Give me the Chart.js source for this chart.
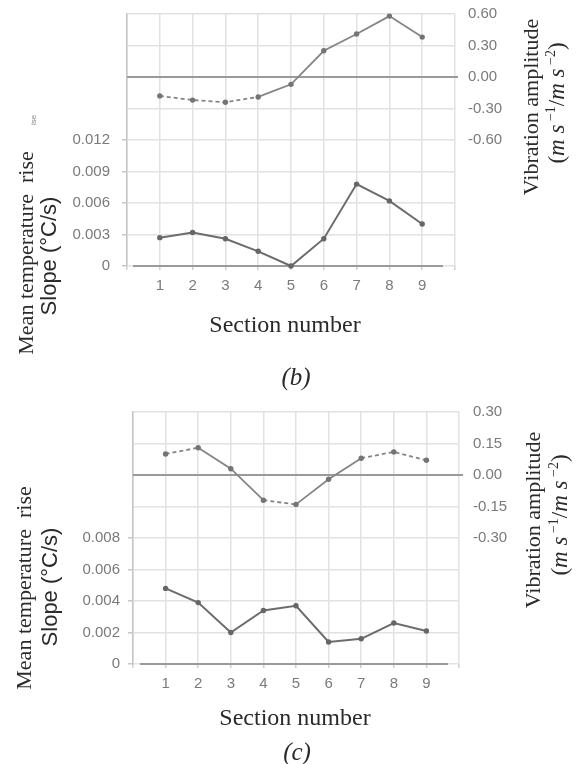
<!DOCTYPE html>
<html>
<head>
<meta charset="utf-8">
<script src="https://cdn.jsdelivr.net/npm/chart.js@4.4.0/dist/chart.umd.min.js"></script>
<style>
  html, body { margin: 0; padding: 0; background: #fff; }
  canvas { position: absolute; left: 0; }
  #chartB { top: 0; }
  #chartC { top: 400px; }
</style>
</head>
<body>
<canvas id="chartB" width="576" height="400"></canvas>
<canvas id="chartC" width="576" height="364"></canvas>
<script>
var sections = [1, 2, 3, 4, 5, 6, 7, 8, 9];

// panel (b)
var vibB  = [-0.18, -0.22, -0.24, -0.19, -0.07, 0.25, 0.41, 0.58, 0.38];
var tempB = [0.0027, 0.0032, 0.0026, 0.0014, 0.0000, 0.0026, 0.0078, 0.0062, 0.0040];
var vibTicksB  = [-0.6, -0.3, 0, 0.3, 0.6];
var tempTicksB = [0, 0.003, 0.006, 0.009, 0.012];

// panel (c)
var vibC  = [0.10, 0.13, 0.03, -0.12, -0.14, -0.02, 0.08, 0.11, 0.07];
var tempC = [0.0048, 0.0039, 0.0020, 0.0034, 0.0037, 0.0014, 0.0016, 0.0026, 0.0021];
var vibTicksC  = [-0.3, -0.15, 0, 0.15, 0.3];
var tempTicksC = [0, 0.002, 0.004, 0.006, 0.008];

var GRID = '#e2e2e2';
var TICK_COLOR = '#7a7a7a';
var TITLE_COLOR = '#2a2a2a';
var SERIF = '"Liberation Serif", "Times New Roman", serif';
var SANS = '"Liberation Sans", Arial, sans-serif';

function pts(ys) {
  return sections.map(function (s, i) { return { x: s, y: ys[i] }; });
}

function listed(list, v) {
  return list.some(function (t) { return Math.abs(t - v) < 1e-9; });
}

// dotted look on the flat stretches of the vibration trace
function flatDash(ctx) {
  var dx = ctx.p1.x - ctx.p0.x, dy = ctx.p1.y - ctx.p0.y;
  return Math.abs(dy) < 0.3 * Math.abs(dx) ? [4, 3] : [];
}

// scales reserve room for overhanging labels; the plot box is fixed here instead
function noOverhang(s) {
  s.paddingTop = 0;
  s.paddingBottom = 0;
  s.paddingLeft = 0;
  s.paddingRight = 0;
}

// draws a row of differently styled runs centred on (cx, cy)
function drawRuns(ctx, runs, cx, cy, angle) {
  ctx.save();
  ctx.translate(cx, cy);
  ctx.rotate(angle);
  ctx.textBaseline = 'middle';
  ctx.fillStyle = TITLE_COLOR;
  var total = 0;
  runs.forEach(function (r) {
    ctx.font = r.font;
    r.w = ctx.measureText(r.text).width;
    total += r.w;
  });
  var x = -total / 2;
  runs.forEach(function (r) {
    ctx.font = r.font;
    ctx.fillText(r.text, x, r.dy || 0);
    x += r.w;
  });
  ctx.restore();
}

function unitRuns() {
  var n = '23px ' + SERIF, it = 'italic 23px ' + SERIF, sup = '14px ' + SERIF;
  return [
    { text: '(', font: n },
    { text: 'm s', font: it },
    { text: ' \u22121', font: sup, dy: -7 },
    { text: '/', font: n },
    { text: 'm s', font: it },
    { text: ' \u22122', font: sup, dy: -7 },
    { text: ')', font: n }
  ];
}

function makePanel(id, o) {
  var up = -Math.PI / 2;

  var decor = {
    id: 'decor',
    beforeDatasetsDraw: function (chart) {
      var ctx = chart.ctx, a = chart.chartArea;
      var y0 = chart.scales.yVib.getPixelForValue(0);
      var yb = chart.scales.yTemp.getPixelForValue(0);
      ctx.save();
      ctx.strokeStyle = '#9a9a9a';
      ctx.lineWidth = 2;
      ctx.beginPath();
      ctx.moveTo(a.left, y0);
      ctx.lineTo(a.right + o.zeroExt, y0);
      ctx.moveTo(a.left + o.baseInset[0], yb);
      ctx.lineTo(a.right - o.baseInset[1], yb);
      ctx.stroke();
      ctx.restore();
    },
    afterDraw: function (chart) {
      var ctx = chart.ctx, t = o.text;
      drawRuns(ctx, [{ text: 'Mean temperature  rise', font: '22px ' + SERIF }], t.mean[0], t.mean[1], up);
      drawRuns(ctx, [{ text: 'Slope (\u00B0C/s)', font: '22px ' + SANS }], t.slope[0], t.slope[1], up);
      drawRuns(ctx, [{ text: 'Vibration amplitude', font: '22px ' + SERIF }], t.vib[0], t.vib[1], up);
      drawRuns(ctx, unitRuns(), t.unit[0], t.unit[1], up);
      drawRuns(ctx, [{ text: 'Section number', font: '24px ' + SERIF }], t.xTitle[0], t.xTitle[1], 0);
      drawRuns(ctx, [{ text: o.caption, font: 'italic 25px ' + SERIF }], t.caption[0], t.caption[1], 0);
      if (t.stray) {
        ctx.save();
        ctx.globalAlpha = 0.6;
        drawRuns(ctx, [{ text: 'ise', font: '8px ' + SANS }], t.stray[0], t.stray[1], up);
        ctx.restore();
      }
    }
  };

  return new Chart(document.getElementById(id), {
    type: 'line',
    data: {
      datasets: [{
        label: 'Vibration amplitude',
        data: pts(o.vib),
        yAxisID: 'yVib',
        borderColor: '#858585',
        backgroundColor: '#747474',
        borderWidth: 1.8,
        pointRadius: 2.7,
        pointBorderWidth: 0,
        tension: 0,
        clip: false,
        segment: { borderDash: flatDash }
      }, {
        label: 'Temperature rise slope',
        data: pts(o.temp),
        yAxisID: 'yTemp',
        borderColor: '#6c6c6c',
        backgroundColor: '#666666',
        borderWidth: 2,
        pointRadius: 2.7,
        pointBorderWidth: 0,
        tension: 0,
        clip: false
      }]
    },
    options: {
      responsive: false,
      animation: false,
      layout: { padding: { top: o.top, left: 0, right: 0, bottom: 0 } },
      plugins: { legend: { display: false }, tooltip: { enabled: false } },
      scales: {
        x: {
          type: 'linear',
          min: 0,
          max: 10,
          afterFit: function (s) { s.height = o.xHeight; noOverhang(s); },
          border: { display: false },
          grid: { color: GRID, lineWidth: 1.5, tickLength: 4, tickColor: '#d0d0d0' },
          ticks: {
            stepSize: 1,
            padding: 7,
            color: TICK_COLOR,
            font: { family: SANS, size: 15 },
            callback: function (v) { return sections.indexOf(v) >= 0 ? String(v) : ''; }
          }
        },
        yTemp: {
          type: 'linear',
          position: 'left',
          min: 0,
          max: o.tempMax,
          afterFit: function (s) { s.width = o.left; noOverhang(s); },
          border: { color: '#c6c6c6', width: 1.5 },
          grid: {
            color: GRID,
            lineWidth: 1.5,
            tickLength: 5,
            tickColor: function (c) {
              return listed(o.tempTicks, c.tick.value) ? '#c6c6c6' : 'rgba(0,0,0,0)';
            }
          },
          ticks: {
            stepSize: o.tempStep,
            padding: o.leftPad,
            color: TICK_COLOR,
            font: { family: SANS, size: 15 },
            callback: function (v) {
              if (!listed(o.tempTicks, v)) return '';
              return Math.abs(v) < 1e-9 ? '0' : v.toFixed(3);
            }
          }
        },
        yVib: {
          type: 'linear',
          position: 'right',
          min: o.vibMin,
          max: o.vibMax,
          afterFit: function (s) { s.width = 576 - o.right; noOverhang(s); },
          border: { display: false },
          grid: { display: false, drawOnChartArea: false, drawTicks: false },
          ticks: {
            stepSize: o.vibStep,
            padding: o.rightPad,
            color: TICK_COLOR,
            font: { family: SANS, size: 15 },
            callback: function (v) {
              if (!listed(o.vibTicks, v)) return '';
              return Math.abs(v) < 1e-9 ? '0.00' : v.toFixed(2);
            }
          }
        }
      }
    },
    plugins: [decor]
  });
}

makePanel('chartB', {
  vib: vibB, temp: tempB, vibTicks: vibTicksB, tempTicks: tempTicksB,
  tempMax: 0.024, tempStep: 0.003, vibMin: -1.8, vibMax: 0.6, vibStep: 0.3,
  top: 14, left: 127, right: 455, xHeight: 134,
  leftPad: 12, rightPad: 13, zeroExt: 3, baseInset: [6, 12],
  caption: '(b)',
  text: {
    mean: [27, 253], slope: [50, 256], vib: [532, 107], unit: [558, 103],
    xTitle: [285, 326], caption: [296, 378], stray: [34, 120]
  }
});

makePanel('chartC', {
  vib: vibC, temp: tempC, vibTicks: vibTicksC, tempTicks: tempTicksC,
  tempMax: 0.016, tempStep: 0.002, vibMin: -0.9, vibMax: 0.3, vibStep: 0.15,
  top: 12, left: 133, right: 459, xHeight: 100,
  leftPad: 8, rightPad: 14, zeroExt: 4, baseInset: [7, 11],
  caption: '(c)',
  text: {
    mean: [25, 188], slope: [51, 187], vib: [534, 120], unit: [561, 115],
    xTitle: [295, 319], caption: [297, 353]
  }
});
</script>
</body>
</html>
